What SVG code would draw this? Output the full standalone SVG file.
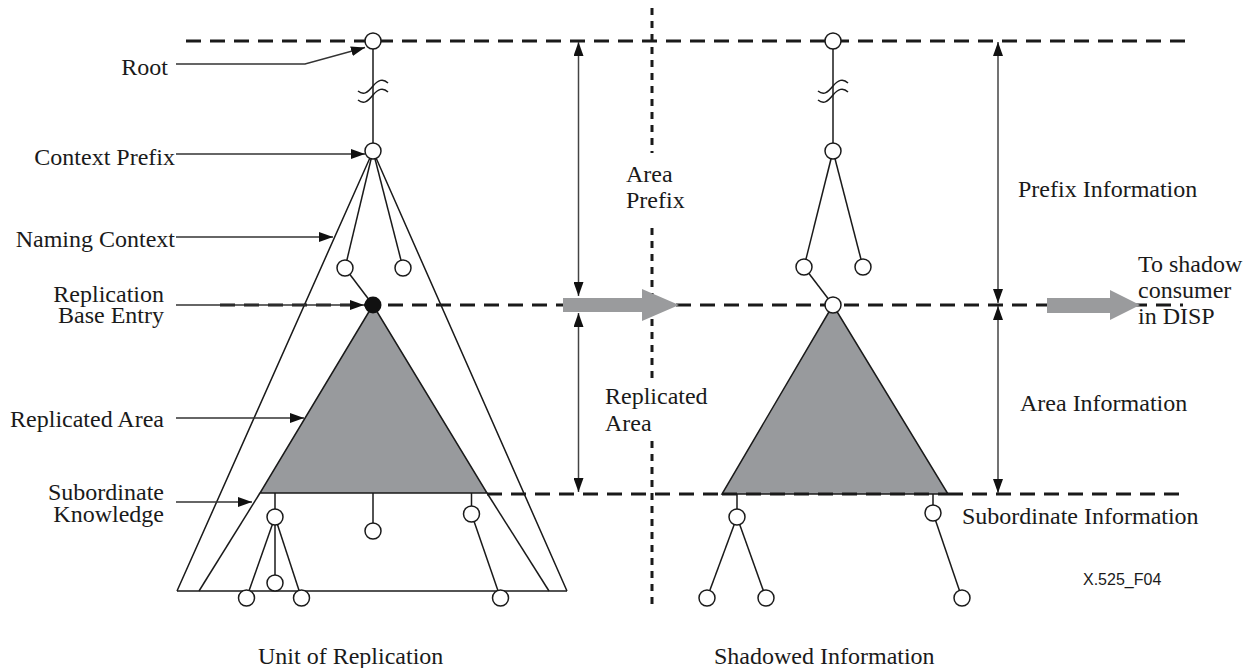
<svg xmlns="http://www.w3.org/2000/svg" width="1250" height="668" viewBox="0 0 1250 668">
<defs>
<style>
.t{font-family:"Liberation Serif","Times New Roman",serif;font-size:24px;fill:#1a1a1a}
.r{text-anchor:end}
.s{font-family:"Liberation Sans",Arial,sans-serif;font-size:16px;fill:#1a1a1a}
.ln{stroke:#1a1a1a;stroke-width:1.5;fill:none}
.nd{fill:#fff;stroke:#1a1a1a;stroke-width:1.5}
.dash{stroke:#1a1a1a;stroke-width:3;stroke-dasharray:15 9;fill:none}
.dot{stroke:#1a1a1a;stroke-width:3;stroke-dasharray:7 6;fill:none}
.lab{stroke:#333;stroke-width:1.3;fill:none}
.dim{stroke:#444;stroke-width:1.5;fill:none}
.area{fill:#989a9d;stroke:#1a1a1a;stroke-width:1.5}
.big{fill:#9a9b9d}
</style>
<marker id="ah" viewBox="0 0 14 10" refX="14" refY="5" markerWidth="14" markerHeight="10" markerUnits="userSpaceOnUse" orient="auto-start-reverse">
<path d="M0,0 L14,5 L0,10 z" fill="#111"/>
</marker>
</defs>

<g id="guides">
<line class="dash" x1="186" y1="41" x2="1185" y2="41"/>
<line class="lab" x1="176" y1="305" x2="220" y2="305"/>
<line class="dash" x1="220" y1="305" x2="1183" y2="305"/>
<line class="dash" x1="487" y1="494" x2="722" y2="494"/>
<line class="dash" x1="948" y1="494" x2="1185" y2="494"/>
<line class="dot" x1="652" y1="8" x2="652" y2="153"/>
<line class="dot" x1="652" y1="228" x2="652" y2="378"/>
<line class="dot" x1="652" y1="441" x2="652" y2="605"/>
</g>

<g id="unit-of-replication">
<line class="ln" x1="373" y1="41" x2="373" y2="151"/>
<path class="ln" d="M358,91 C364,96 368,92 373,86 C378,80 383,78 388,83"/>
<path class="ln" d="M358,100 C364,105 368,101 373,95 C378,89 383,87 388,92"/>
<polyline class="ln" points="177,591 373,151 567,591"/>
<line class="ln" x1="177" y1="591" x2="567" y2="591"/>
<line class="ln" x1="373" y1="151" x2="345" y2="268"/>
<line class="ln" x1="373" y1="151" x2="403" y2="268"/>
<line class="ln" x1="345" y1="268" x2="373" y2="305"/>
<line class="ln" x1="260" y1="493" x2="199" y2="591"/>
<line class="ln" x1="487" y1="493" x2="549" y2="591"/>
<polygon class="area" points="373,305 260,493 487,493"/>
<line class="ln" x1="275" y1="493" x2="275" y2="517"/>
<line class="ln" x1="373" y1="493" x2="373" y2="531"/>
<line class="ln" x1="471.5" y1="493" x2="471.5" y2="514"/>
<line class="ln" x1="275" y1="517" x2="275" y2="583"/>
<line class="ln" x1="275" y1="517" x2="246.5" y2="598"/>
<line class="ln" x1="275" y1="517" x2="301.5" y2="598"/>
<line class="ln" x1="471.5" y1="514" x2="500.5" y2="598"/>
<circle class="nd" cx="373" cy="41" r="8"/>
<circle class="nd" cx="373" cy="151" r="8"/>
<circle class="nd" cx="345" cy="268" r="8"/>
<circle class="nd" cx="403" cy="268" r="8"/>
<circle cx="373" cy="305" r="8.5" fill="#111"/>
<circle class="nd" cx="275" cy="517" r="8"/>
<circle class="nd" cx="373" cy="531" r="8"/>
<circle class="nd" cx="471.5" cy="514" r="8"/>
<circle class="nd" cx="275" cy="583" r="8"/>
<circle class="nd" cx="246.5" cy="598" r="8"/>
<circle class="nd" cx="301.5" cy="598" r="8"/>
<circle class="nd" cx="500.5" cy="598" r="8"/>
</g>

<g id="shadowed-information">
<line class="ln" x1="833" y1="41" x2="833" y2="151"/>
<path class="ln" d="M818,91 C824,96 828,92 833,86 C838,80 843,78 848,83"/>
<path class="ln" d="M818,100 C824,105 828,101 833,95 C838,89 843,87 848,92"/>
<line class="ln" x1="833" y1="151" x2="804" y2="267"/>
<line class="ln" x1="833" y1="151" x2="863" y2="267"/>
<line class="ln" x1="804" y1="267" x2="833" y2="305"/>
<polygon class="area" points="833,305 722,494 948,494"/>
<line class="dash" x1="722" y1="494" x2="948" y2="494"/>
<line class="ln" x1="737" y1="494" x2="737" y2="517"/>
<line class="ln" x1="933" y1="494" x2="933" y2="513"/>
<line class="ln" x1="737" y1="517" x2="707" y2="598"/>
<line class="ln" x1="737" y1="517" x2="766" y2="598"/>
<line class="ln" x1="933" y1="513" x2="962" y2="598"/>
<circle class="nd" cx="833" cy="41" r="8"/>
<circle class="nd" cx="833" cy="151" r="8"/>
<circle class="nd" cx="804" cy="267" r="8"/>
<circle class="nd" cx="863" cy="267" r="8"/>
<circle class="nd" cx="833" cy="305" r="8"/>
<circle class="nd" cx="737" cy="517" r="8"/>
<circle class="nd" cx="933" cy="513" r="8"/>
<circle class="nd" cx="707" cy="598" r="8"/>
<circle class="nd" cx="766" cy="598" r="8"/>
<circle class="nd" cx="962" cy="598" r="8"/>
</g>

<g id="connectors">
<polyline class="lab" points="176,64 305,64 365,47.5" marker-end="url(#ah)"/>
<line class="lab" x1="176" y1="154" x2="365" y2="154" marker-end="url(#ah)"/>
<line class="lab" x1="176" y1="237" x2="333" y2="237" marker-end="url(#ah)"/>
<line class="lab" x1="220" y1="305" x2="364" y2="305" marker-end="url(#ah)"/>
<line class="lab" x1="176" y1="418" x2="304" y2="418" marker-end="url(#ah)"/>
<line class="lab" x1="176" y1="502" x2="252" y2="502" marker-end="url(#ah)"/>
<line class="dim" x1="578.5" y1="42" x2="578.5" y2="296" marker-start="url(#ah)" marker-end="url(#ah)"/>
<line class="dim" x1="578.5" y1="313" x2="578.5" y2="492" marker-start="url(#ah)" marker-end="url(#ah)"/>
<line class="dim" x1="998" y1="42" x2="998" y2="303" marker-start="url(#ah)" marker-end="url(#ah)"/>
<line class="dim" x1="998" y1="306" x2="998" y2="493" marker-start="url(#ah)" marker-end="url(#ah)"/>
<polygon class="big" points="563,298 642,298 642,289 679,305 642,321 642,312 563,312"/>
<polygon class="big" points="1047,298 1110,298 1110,290 1140,305 1110,320 1110,313 1047,313"/>
</g>

<g id="labels">
<text class="t r" x="168" y="75">Root</text>
<text class="t r" x="175" y="165">Context Prefix</text>
<text class="t r" x="175" y="247">Naming Context</text>
<text class="t r" x="164" y="302">Replication</text>
<text class="t r" x="164" y="323">Base Entry</text>
<text class="t r" x="164" y="427">Replicated Area</text>
<text class="t r" x="164" y="500">Subordinate</text>
<text class="t r" x="164" y="522">Knowledge</text>
<text class="t" x="626" y="182">Area</text>
<text class="t" x="626" y="208">Prefix</text>
<text class="t" x="605" y="404">Replicated</text>
<text class="t" x="605" y="431">Area</text>
<text class="t" x="1018" y="197">Prefix Information</text>
<text class="t" x="1138" y="272">To shadow</text>
<text class="t" x="1138" y="298">consumer</text>
<text class="t" x="1138" y="324">in DISP</text>
<text class="t" x="1020" y="411">Area Information</text>
<text class="t" x="962" y="524">Subordinate Information</text>
<text class="s" x="1083" y="585">X.525_F04</text>
<text class="t" x="258" y="664">Unit of Replication</text>
<text class="t" x="714" y="664">Shadowed Information</text>
</g>
</svg>
